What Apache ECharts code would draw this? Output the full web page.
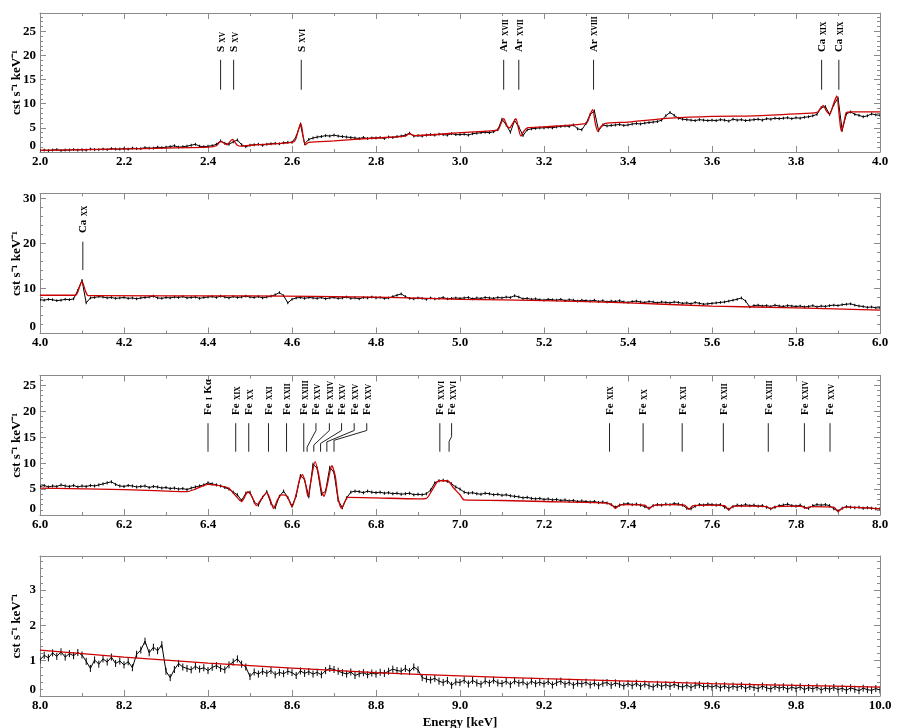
<!DOCTYPE html>
<html><head><meta charset="utf-8">
<script src="https://cdn.jsdelivr.net/npm/echarts@6/dist/echarts.min.js"></script>
<style>html,body{margin:0;padding:0;background:#fff}#c{width:900px;height:728px}</style>
</head><body><div id="c"></div>
<script>
// ---------------- DATA ----------------
const BIN = 0.01; // keV width of the observed spectrum bins

// Panel 1 : 2.0 - 4.0 keV
const p1Start = 2.0;
const p1Counts = [
0.3,0.4,0.3,0.4,0.5,0.3,0.4,0.4,0.5,0.4,
0.5,0.4,0.6,0.5,0.5,0.6,0.5,0.7,0.6,0.6,
0.7,0.6,0.8,0.7,0.7,0.9,0.8,0.8,1.0,0.9,
1.0,1.1,1.3,1.0,1.1,1.2,1.4,1.6,1.2,1.1,
1.2,1.3,1.6,2.3,1.8,1.6,2.1,2.5,1.5,1.1,
1.4,1.5,1.6,1.4,1.6,1.7,1.8,1.7,1.9,2.0,
2.0,3.2,5.8,1.7,2.6,2.9,3.1,3.2,3.4,3.3,
3.5,3.3,3.2,3.1,3.0,2.9,2.8,3.0,2.8,2.9,
2.9,3.0,2.8,3.1,3.0,3.2,3.3,3.5,3.9,3.3,
3.4,3.3,3.5,3.6,3.5,3.7,3.6,3.5,3.8,3.6,
3.6,3.7,3.5,3.8,3.9,4.0,4.1,4.0,4.2,4.6,
6.8,5.6,4.1,6.5,5.2,3.4,4.6,4.8,4.9,5.0,
5.0,5.1,5.0,5.2,5.3,5.4,5.3,5.6,4.8,4.6,
5.9,7.8,8.5,4.4,5.6,5.4,5.5,5.6,5.7,5.5,
5.6,5.8,5.9,5.8,6.0,6.1,6.2,6.3,6.6,7.5,
8.2,7.6,7.0,6.8,6.7,6.6,6.5,6.7,6.6,6.5,
6.6,6.5,6.7,6.6,6.4,6.8,6.6,6.7,6.5,6.6,
6.7,6.8,6.6,6.9,6.8,7.0,6.9,7.0,7.1,6.9,
7.1,7.0,7.2,7.3,7.5,7.8,9.2,9.4,7.8,9.8,
11.2,4.5,7.9,8.3,7.8,7.6,7.3,7.5,7.9,7.7,
7.6];
const p1Model = [[2.0,0.35],[2.2,0.65],[2.4,1.0],[2.42,1.3],[2.43,2.2],[2.445,1.5],[2.458,2.6],[2.47,1.4],[2.48,1.2],[2.5,1.4],[2.6,2.0],[2.608,2.5],[2.615,4.5],[2.621,5.9],[2.627,3.0],[2.632,1.5],[2.64,2.0],[2.7,2.3],[2.8,2.9],[2.87,3.3],[2.88,3.8],[2.89,3.4],[3.0,4.0],[3.09,4.6],[3.097,5.8],[3.104,6.9],[3.112,5.4],[3.118,5.0],[3.126,6.0],[3.133,6.9],[3.139,5.0],[3.145,3.3],[3.152,4.3],[3.16,5.0],[3.2,5.2],[3.3,5.9],[3.305,6.5],[3.31,7.8],[3.316,8.8],[3.322,6.0],[3.328,4.3],[3.335,5.2],[3.345,5.9],[3.4,6.2],[3.5,7.0],[3.6,7.4],[3.7,7.5],[3.8,7.9],[3.85,8.2],[3.858,9.0],[3.865,9.6],[3.873,8.4],[3.88,7.8],[3.888,9.6],[3.897,11.6],[3.903,7.5],[3.908,4.3],[3.915,6.5],[3.92,8.2],[3.93,8.3],[4.0,8.3]];
const p1LineE  = [2.430, 2.461, 2.622, 3.104, 3.140, 3.318, 3.861, 3.902];
const p1LabelE = [2.430, 2.461, 2.622, 3.104, 3.140, 3.318, 3.861, 3.902];
const p1Labels = ['S XV','S XV','S XVI','Ar XVII','Ar XVII','Ar XVIII','Ca XIX','Ca XIX'];

// Panel 2 : 4.0 - 6.0 keV
const p2Start = 4.0;
const p2Counts = [
7.5,7.4,7.6,7.5,7.3,7.4,7.6,7.5,7.7,9.6,
11.8,6.8,7.9,8.0,8.2,8.1,7.9,8.0,7.8,7.9,
8.0,7.8,7.9,7.7,7.9,8.0,8.1,8.3,7.9,7.8,
8.0,7.9,8.1,8.0,8.2,7.9,8.0,8.1,7.8,8.0,
8.1,8.2,8.0,8.3,8.1,7.9,8.2,8.0,8.1,8.3,
8.1,8.0,8.2,7.9,8.1,8.3,8.6,9.1,8.4,6.8,
7.6,7.9,8.0,7.8,8.0,7.9,7.8,8.0,7.7,7.9,
8.0,7.8,7.9,8.1,7.8,7.9,7.7,8.0,7.9,8.1,
7.9,8.0,7.8,7.9,8.2,8.5,8.8,8.2,7.8,7.7,
7.9,7.8,7.6,7.9,7.7,7.8,8.0,7.7,7.8,7.9,
7.8,7.9,8.0,7.7,7.9,7.8,8.0,7.9,7.8,8.0,
7.9,8.1,8.0,8.4,8.1,7.7,7.8,7.6,7.7,7.5,
7.4,7.6,7.5,7.4,7.6,7.3,7.5,7.4,7.2,7.4,
7.3,7.2,7.4,7.1,7.3,7.0,7.2,7.1,7.3,7.0,
6.9,7.1,7.2,7.0,6.9,7.1,7.0,6.8,7.0,6.9,
6.8,7.0,6.9,6.7,6.8,6.6,6.9,6.7,6.5,6.6,
6.7,6.8,6.9,7.0,7.2,7.4,7.6,7.9,7.2,5.9,
6.2,6.3,6.1,6.2,6.0,6.3,6.1,6.0,6.2,6.1,
6.0,6.1,5.9,6.0,6.2,5.9,6.1,6.0,6.2,6.3,
6.2,6.4,6.5,6.6,6.3,6.1,6.0,5.8,5.9,5.7,
5.7];
const p2Model = [[4.0,8.5],[4.085,8.5],[4.092,9.8],[4.100,11.6],[4.108,9.5],[4.115,8.4],[4.5,8.35],[4.8,8.1],[5.0,7.6],[5.2,7.3],[5.4,6.8],[5.6,6.1],[5.8,5.7],[6.0,5.2]];
const p2LineE  = [4.102];
const p2LabelE = [4.102];
const p2Labels = ['Ca XX'];

// Panel 3 : 6.0 - 8.0 keV
const p3Start = 6.0;
const p3Counts = [
5.5,5.7,5.4,5.6,5.5,5.8,5.6,5.5,5.7,5.4,
5.6,5.5,5.7,5.6,5.8,6.0,6.2,6.4,5.9,5.6,
5.5,5.7,5.6,5.4,5.5,5.6,5.3,5.5,5.4,5.2,
5.3,5.1,5.2,5.0,5.1,4.9,5.2,5.4,5.6,5.8,
6.2,6.0,5.8,5.6,5.3,5.0,4.4,3.9,2.8,4.2,
4.4,2.5,1.9,3.4,4.5,2.2,1.4,3.6,4.6,3.4,
1.7,3.7,7.6,6.8,3.5,9.8,9.0,4.0,4.6,9.2,
8.2,2.8,1.4,3.3,4.4,4.6,4.5,4.3,4.6,4.4,
4.3,4.4,4.2,4.3,4.1,4.2,4.0,4.1,4.2,3.9,
4.0,3.9,4.1,4.8,6.2,6.6,6.7,6.5,6.0,5.4,
5.0,4.4,4.2,4.3,4.1,4.0,4.2,4.1,3.9,4.0,
3.8,3.9,3.7,3.6,3.5,3.3,3.4,3.2,3.1,3.2,
3.0,3.1,2.9,3.0,2.8,2.9,2.7,2.8,2.6,2.7,
2.6,2.5,2.6,2.4,2.5,2.3,2.0,1.5,1.9,2.1,
2.2,2.0,2.1,1.9,1.6,1.3,1.8,2.0,1.9,2.1,
2.0,2.2,2.1,1.9,1.3,1.2,1.7,2.0,1.9,2.1,
2.0,1.9,2.0,1.5,1.1,1.6,1.9,1.8,2.0,1.8,
1.9,1.7,1.8,1.5,1.2,1.5,1.8,1.9,2.1,1.8,
1.7,1.9,1.5,1.3,1.8,2.0,1.9,2.0,1.8,1.2,
0.8,1.3,1.6,1.5,1.4,1.5,1.3,1.4,1.3,1.2,
1.2];
const p3Model = [[6.0,5.2],[6.2,4.9],[6.35,4.5],[6.37,5.0],[6.4,5.9],[6.43,5.6],[6.45,5.1],[6.465,3.8],[6.48,2.6],[6.495,4.5],[6.505,3.5],[6.515,1.8],[6.528,3.2],[6.54,4.3],[6.548,3.0],[6.556,1.3],[6.566,3.0],[6.575,3.9],[6.585,3.8],[6.592,3.0],[6.6,1.6],[6.61,4.0],[6.618,6.8],[6.625,7.8],[6.632,6.0],[6.638,3.6],[6.645,6.5],[6.655,10.3],[6.663,8.0],[6.67,4.8],[6.676,3.6],[6.683,5.5],[6.695,9.5],[6.703,7.5],[6.71,3.2],[6.718,1.3],[6.726,2.6],[6.733,3.4],[6.8,3.3],[6.9,3.1],[6.92,3.2],[6.935,5.0],[6.95,6.6],[6.97,6.6],[6.985,5.2],[7.0,3.9],[7.01,2.9],[7.1,2.8],[7.2,2.6],[7.35,2.3],[7.362,1.9],[7.37,1.3],[7.38,1.9],[7.4,2.0],[7.44,1.9],[7.45,1.2],[7.46,1.8],[7.5,2.0],[7.535,1.9],[7.545,1.1],[7.555,1.8],[7.6,1.9],[7.63,1.8],[7.64,1.0],[7.65,1.7],[7.7,1.7],[7.73,1.6],[7.74,1.2],[7.75,1.6],[7.8,1.7],[7.815,1.6],[7.825,1.3],[7.835,1.6],[7.89,1.5],[7.9,0.7],[7.91,1.3],[7.92,1.5],[8.0,1.2]];
const p3LineE  = [6.400, 6.466, 6.497, 6.544, 6.587, 6.628, 6.636, 6.652, 6.668, 6.683, 6.700, 6.952, 6.974, 7.356, 7.436, 7.529, 7.627, 7.734, 7.820, 7.881];
const p3LabelE = [6.400, 6.466, 6.497, 6.544, 6.587, 6.628, 6.657, 6.689, 6.718, 6.748, 6.778, 6.952, 6.980, 7.356, 7.436, 7.529, 7.627, 7.734, 7.820, 7.881];
const p3Labels = ['Fe I Kα','Fe XIX','Fe XX','Fe XXI','Fe XXII','Fe XXIII','Fe XXV','Fe XXIV','Fe XXV','Fe XXV','Fe XXV','Fe XXVI','Fe XXVI','Fe XIX','Fe XX','Fe XXI','Fe XXII','Fe XXIII','Fe XXIV','Fe XXV'];

// Panel 4 : 8.0 - 10.0 keV
const p4Start = 8.0;
const p4Counts = [
1.02,1.15,1.08,1.22,1.12,1.25,1.10,1.20,1.14,1.23,
1.16,0.98,0.78,1.02,0.90,1.05,0.96,1.10,0.92,0.99,
0.88,0.97,0.80,1.18,1.30,1.55,1.22,1.38,1.28,1.45,
0.70,0.52,0.75,0.92,0.82,0.78,0.74,0.84,0.76,0.80,
0.72,0.81,0.86,0.78,0.74,0.88,0.96,1.05,0.90,0.82,
0.55,0.68,0.62,0.70,0.64,0.72,0.60,0.67,0.63,0.70,
0.66,0.58,0.71,0.64,0.69,0.62,0.67,0.60,0.72,0.78,
0.75,0.70,0.66,0.62,0.68,0.58,0.63,0.66,0.60,0.65,
0.62,0.67,0.64,0.70,0.76,0.72,0.70,0.78,0.69,0.82,
0.74,0.52,0.48,0.45,0.50,0.42,0.38,0.44,0.30,0.40,
0.38,0.45,0.34,0.44,0.37,0.33,0.43,0.36,0.45,0.37,
0.35,0.42,0.32,0.43,0.36,0.40,0.31,0.42,0.35,0.39,
0.34,0.41,0.31,0.38,0.42,0.33,0.39,0.30,0.37,0.34,
0.39,0.31,0.37,0.29,0.36,0.38,0.30,0.37,0.33,0.28,
0.35,0.29,0.36,0.27,0.34,0.29,0.25,0.33,0.27,0.32,
0.27,0.33,0.28,0.25,0.31,0.24,0.30,0.32,0.25,0.29,
0.25,0.30,0.23,0.29,0.22,0.28,0.24,0.29,0.21,0.27,
0.24,0.21,0.28,0.23,0.20,0.27,0.22,0.26,0.19,0.25,
0.21,0.26,0.18,0.24,0.20,0.25,0.17,0.23,0.19,0.24,
0.18,0.22,0.16,0.23,0.19,0.15,0.22,0.18,0.16,0.21,
0.17];
const p4Model = [[8.0,1.30],[8.2,1.10],[8.4,0.93],[8.6,0.79],[8.8,0.66],[9.0,0.57],[9.2,0.49],[9.4,0.42],[9.6,0.35],[9.8,0.30],[10.0,0.25]];

// typical 1-sigma error bar half-height read per panel (cst s^-1 keV^-1)
const errHalf = [0.3, 0.3, 0.3, 0.1];

// axis tick settings
const yTickStep = [5, 10, 5, 1];
const xTickStep = 0.2;
const yTitle = 'cst s\u207B\u00B9 keV\u207B\u00B9';
const xTitle = 'Energy [keV]';

// ---------------- LAYOUT / STYLE ----------------
const FONT = '"Liberation Serif","Times New Roman",serif';
const AXC = '#8a8a8a';
const panels = [
  {xmin:2, xmax:4,  ymax:28.8, top:13,    height:139,   counts:p1Counts, start:p1Start, model:p1Model, lineE:p1LineE, labE:p1LabelE, labels:p1Labels,
   ann:{yText:20.7, yTop:19.1, yBot:12.9}},
  {xmin:4, xmax:6,  ymax:31.1, top:193.5, height:140,   counts:p2Counts, start:p2Start, model:p2Model, lineE:p2LineE, labE:p2LabelE, labels:p2Labels,
   ann:{yText:22.3, yTop:20.4, yBot:14.1}},
  {xmin:6, xmax:8,  ymax:26.9, top:375.5, height:139.5, counts:p3Counts, start:p3Start, model:p3Model, lineE:p3LineE, labE:p3LabelE, labels:p3Labels,
   ann:{yText:19.3, yTop:17.7, yBot:12.2}},
  {xmin:8, xmax:10, ymax:3.96, top:556,   height:140,   counts:p4Counts, start:p4Start, model:p4Model, lineE:null}
];
// leader-line bend heights (data units) for the shifted labels of panel 3
const bendA = {6:16.3, 7:16.3, 8:16.3, 9:16.3, 10:16.3, 12:15.1};
const bendB = {6:13.1, 7:13.5, 8:13.8, 9:14.1, 10:14.4, 12:14.2};

const grid = [], xAxis = [], yAxis = [], series = [];
panels.forEach((p, i) => {
  grid.push({left:40, right:20, top:p.top, height:p.height, containLabel:false, outerBoundsMode:'none'});
  const tickBase = {show:true, inside:true, length:6, lineStyle:{color:AXC, width:1}};
  const minor = (n) => ({show:true, splitNumber:n, length:3, lineStyle:{color:AXC, width:1}});
  xAxis.push({type:'value', gridIndex:i, min:p.xmin, max:p.xmax, interval:xTickStep, position:'bottom',
    axisLine:{show:true, onZero:false, lineStyle:{color:AXC}}, axisTick:tickBase, minorTick:minor(2),
    splitLine:{show:false},
    axisLabel:{margin:3, color:'#000', fontFamily:FONT, fontWeight:'bold', fontSize:13, formatter:v=>v.toFixed(1)},
    name: i===3 ? xTitle : '', nameLocation:'middle', nameGap:20, nameMoveOverlap:false,
    nameTextStyle:{color:'#000', fontFamily:FONT, fontWeight:'bold', fontSize:13}});
  xAxis.push({type:'value', gridIndex:i, min:p.xmin, max:p.xmax, interval:xTickStep, position:'top',
    axisLine:{show:true, onZero:false, lineStyle:{color:AXC}}, axisTick:tickBase, minorTick:minor(2),
    splitLine:{show:false}, axisLabel:{show:false}});
  yAxis.push({type:'value', gridIndex:i, min:0, max:p.ymax, interval:yTickStep[i], position:'left',
    axisLine:{show:true, onZero:false, lineStyle:{color:AXC}}, axisTick:tickBase, minorTick:minor(5),
    splitLine:{show:false},
    axisLabel:{margin:4, color:'#000', fontFamily:FONT, fontWeight:'bold', fontSize:13, verticalAlignMinLabel:'bottom',
      showMaxLabel:false, formatter:v=>String(Math.round(v))},
    name:yTitle, nameLocation:'middle', nameGap:17, nameMoveOverlap:false,
    nameTextStyle:{color:'#000', fontFamily:FONT, fontWeight:'bold', fontSize:13}});
  yAxis.push({type:'value', gridIndex:i, min:0, max:p.ymax, interval:yTickStep[i], position:'right',
    axisLine:{show:true, onZero:false, lineStyle:{color:AXC}}, axisTick:tickBase, minorTick:minor(5),
    splitLine:{show:false}, axisLabel:{show:false}});

  const obs = p.counts.map((v, k) => [+(p.start + k*BIN).toFixed(3), v]);
  const eh = errHalf[i];
  // error bars
  series.push({type:'custom', xAxisIndex:2*i, yAxisIndex:2*i, data:obs, clip:true, z:1, animation:false,
    renderItem:(params, api) => {
      const e = api.value(0), v = api.value(1);
      const a = api.coord([e, v - eh]), b = api.coord([e, v + eh]);
      return {type:'line', shape:{x1:a[0], y1:a[1], x2:b[0], y2:b[1]}, style:{stroke:'#000', lineWidth:1}};
    }});
  series.push({type:'line', xAxisIndex:2*i, yAxisIndex:2*i, data:obs, showSymbol:false, symbol:'none',
    lineStyle:{color:'#000', width:1}, clip:true, z:2, animation:false});
  series.push({type:'line', xAxisIndex:2*i, yAxisIndex:2*i, data:p.model, showSymbol:false, symbol:'none', smooth:0.25,
    lineStyle:{color:'#cc0000', width:1.3}, clip:true, z:3, animation:false});

  if (p.lineE) {
    const annData = p.lineE.map((e, k) => [e, p.labE[k], k]);
    const a = p.ann, labels = p.labels;
    series.push({type:'custom', xAxisIndex:2*i, yAxisIndex:2*i, data:annData, clip:false, z:4, animation:false,
      renderItem:(params, api) => {
        const le = api.value(0), te = api.value(1), k = api.value(2);
        let pts;
        if (Math.abs(le - te) < 1e-6) {
          pts = [api.coord([le, a.yTop]), api.coord([le, a.yBot])];
        } else {
          pts = [api.coord([te, a.yTop]), api.coord([te, bendA[k]]), api.coord([le, bendB[k]]), api.coord([le, a.yBot])];
        }
        const parts = labels[k].split(' ');
        let txt = '{e|' + parts[0] + '} {s|' + parts[1] + '}';
        if (parts.length > 2) txt += ' {e|' + parts.slice(2).join(' ') + '}';
        const tp = api.coord([te, a.yText]);
        return {type:'group', children:[
          {type:'polyline', shape:{points:pts}, style:{stroke:'#222', lineWidth:1, fill:null}},
          {type:'text', x:tp[0], y:tp[1], rotation:Math.PI/2,
            style:{text:txt, align:'left', verticalAlign:'middle', fill:'#000',
              rich:{e:{fontFamily:FONT, fontWeight:'bold', fontSize:11, fill:'#000', verticalAlign:'bottom'},
                    s:{fontFamily:FONT, fontWeight:'bold', fontSize:7.5, fill:'#000', verticalAlign:'bottom'}}}}
        ]};
      }});
  }
});

const chart = echarts.init(document.getElementById('c'), null, {renderer:'canvas'});
chart.setOption({animation:false, backgroundColor:'#fff', grid, xAxis, yAxis, series});
</script></body></html>
